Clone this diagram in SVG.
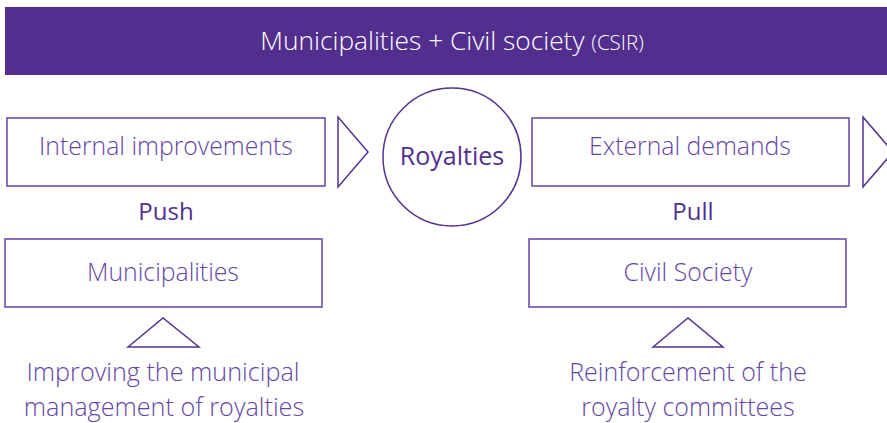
<svg xmlns="http://www.w3.org/2000/svg" width="887" height="423" viewBox="0 0 887 423">
<style>
.box{fill:#fff;stroke:#6A4FAA;stroke-width:1.6}
.tri{fill:#fff;stroke:#52338F;stroke-width:1.5;stroke-linejoin:miter}
.lt{font-family:"Open Sans","Noto Sans",sans-serif;font-weight:300;fill:#6546A6;text-anchor:middle}
.md{font-family:"Open Sans","Noto Sans",sans-serif;font-weight:400;fill:#52308F;text-anchor:middle}
</style>
<rect width="887" height="423" fill="#fff"/>
<g id="header">
<rect x="5" y="7" width="882" height="68" fill="#522E8F"/>
<text x="452" y="50" font-family="'Open Sans','Noto Sans',sans-serif" font-weight="300" font-size="26.3" fill="#fff" text-anchor="middle">Municipalities + Civil society <tspan font-size="20.5">(CSIR)</tspan></text>
</g>
<g id="internal">
<rect class="box" x="7" y="118" width="318" height="68"/>
<text class="lt" x="166" y="155" font-size="24.8">Internal improvements</text>
</g>
<g id="royalties">
<circle cx="452" cy="157" r="69" fill="#fff" stroke="#52338F" stroke-width="1.5"/>
<text class="md" x="452" y="165" font-size="25">Royalties</text>
</g>
<g id="external">
<rect class="box" x="532" y="118" width="317" height="68"/>
<text class="lt" x="690" y="155" font-size="24.8">External demands</text>
</g>
<g id="push"><text class="md" x="166" y="220" font-size="24">Push</text></g>
<g id="pull"><text class="md" x="693" y="220" font-size="24">Pull</text></g>
<g id="municipalities">
<rect class="box" x="5" y="239" width="317" height="68"/>
<text class="lt" x="163" y="281" font-size="24.8">Municipalities</text>
</g>
<g id="civil">
<rect class="box" x="529" y="239" width="317" height="68"/>
<text class="lt" x="688" y="281" font-size="24.8">Civil Society</text>
</g>
<g id="connectors">
<polygon class="tri" points="338,117 368,152 338,187"/>
<polygon class="tri" points="863,117 893,152 863,187"/>
<polygon class="tri" points="128,347 163,318 199,347"/>
<polygon class="tri" points="653,347 688,318 723,347"/>
</g>
<g id="label-left">
<text class="lt" x="163" y="381" font-size="25.2">Improving the municipal</text>
<text class="lt" x="164" y="416" font-size="25.2">management of royalties</text>
</g>
<g id="label-right">
<text class="lt" x="688" y="381" font-size="25">Reinforcement of the</text>
<text class="lt" x="688" y="416" font-size="25">royalty committees</text>
</g>
</svg>
